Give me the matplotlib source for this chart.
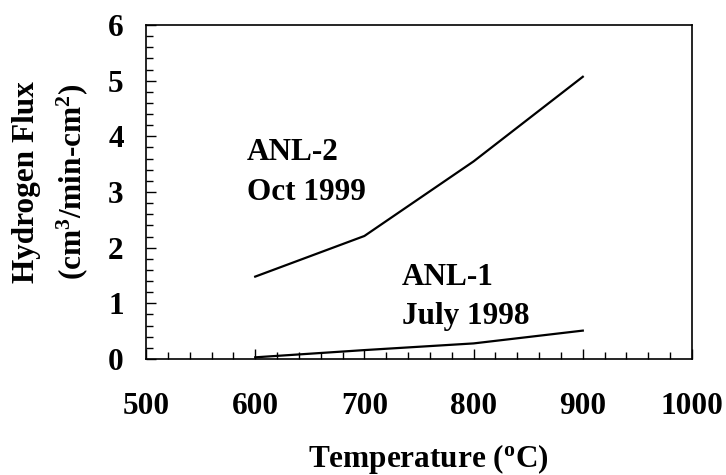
import matplotlib
matplotlib.use("Agg")
import matplotlib.pyplot as plt
from matplotlib.ticker import MultipleLocator

plt.rcParams['font.family'] = ['Liberation Serif', 'DejaVu Serif']
plt.rcParams['font.weight'] = 'bold'
plt.rcParams['mathtext.fontset'] = 'custom'
plt.rcParams['mathtext.rm'] = 'Liberation Serif:bold'
plt.rcParams['mathtext.it'] = 'Liberation Serif:bold'
plt.rcParams['mathtext.bf'] = 'Liberation Serif:bold'

temps = [600, 700, 800, 900]
anl2_flux = [1.48, 2.21, 3.55, 5.07]
anl1_flux = [0.03, 0.16, 0.28, 0.51]

x_ticks = [500, 600, 700, 800, 900, 1000]
y_ticks = [0, 1, 2, 3, 4, 5, 6]

FS = 22.5

fig = plt.figure(figsize=(7.26, 4.75), dpi=100)
ax = fig.add_axes([146 / 726, 1 - 359 / 475, 546 / 726, 334 / 475])

ax.plot(temps, anl2_flux, color='black', lw=1.6)
ax.plot(temps, anl1_flux, color='black', lw=1.6)

ax.set_xlim(500, 1000)
ax.set_ylim(0, 6)
ax.set_xticks(x_ticks)
ax.set_yticks(y_ticks)
ax.xaxis.set_minor_locator(MultipleLocator(20))
ax.yaxis.set_minor_locator(MultipleLocator(0.2))
ax.tick_params(which='both', direction='in', top=False, right=False, width=1)
ax.tick_params(which='major', length=7)
ax.tick_params(which='minor', length=5)
ax.tick_params(axis='x', which='major', pad=24, labelsize=FS)
ax.tick_params(axis='y', which='major', pad=16, labelsize=FS)
for lab in ax.get_xticklabels() + ax.get_yticklabels():
    lab.set_fontweight('bold')
for s in ax.spines.values():
    s.set_linewidth(1.2)

# axis titles placed in figure coordinates
fig.text(428 / 726, 1 - 467 / 475, 'Temperature ($^\\mathregular{o}$C)',
         fontsize=FS, fontweight='bold', ha='center', va='baseline')
fig.text(51 / 726, 1 - 182 / 475,
         'Hydrogen Flux\n(cm$^\\mathregular{3}$/min-cm$^\\mathregular{2}$)',
         fontsize=FS, fontweight='bold', ha='center', va='center',
         rotation=90, linespacing=1.5, multialignment='center')

ax.text(592.5, 3.575, 'ANL-2', fontsize=FS, fontweight='bold', va='baseline')
ax.text(592.5, 2.856, 'Oct 1999', fontsize=FS, fontweight='bold', va='baseline')
ax.text(734.4, 1.329, 'ANL-1', fontsize=FS, fontweight='bold', va='baseline')
ax.text(734.4, 0.629, 'July 1998', fontsize=FS, fontweight='bold', va='baseline')

fig.savefig('out.png', dpi=100)
